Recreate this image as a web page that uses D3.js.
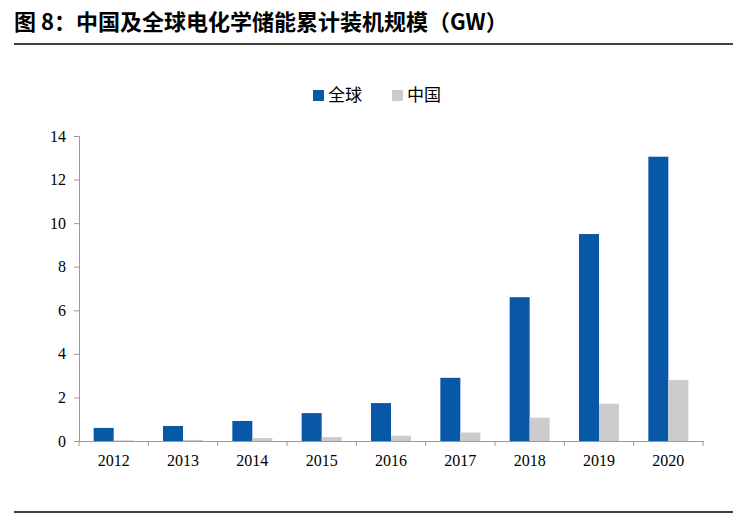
<!DOCTYPE html>
<html><head><meta charset="utf-8">
<script src="https://cdn.jsdelivr.net/npm/d3@7"></script>
<style>body{margin:0;background:#fff}</style>
</head><body>
<svg id="chart" width="747" height="521"></svg>
<script>
const years = ['2012','2013','2014','2015','2016','2017','2018','2019','2020']
const globalVals = [0.6, 0.69, 0.92, 1.28, 1.74, 2.9, 6.6, 9.5, 13.05]
const chinaVals = [0.03, 0.05, 0.14, 0.18, 0.24, 0.39, 1.07, 1.71, 2.8]
const seriesNames = ['全球', '中国']
const colors = ['#0958a8', '#cccccc']

const svg = d3.select('#chart')
const serif = '"Liberation Serif", "Times New Roman", serif'
const cjk = '"Noto Sans CJK SC", sans-serif'

// title + rules
svg.append('text').attr('x', 14).attr('y', 30)
  .style('font-family', cjk).style('font-size', '22px').style('font-weight', 'bold')
  .text('图  8：中国及全球电化学储能累计装机规模（GW）')
svg.append('line').attr('x1', 14).attr('x2', 733).attr('y1', 44).attr('y2', 44)
  .attr('stroke', '#000').attr('stroke-width', 1.5)
svg.append('line').attr('x1', 14).attr('x2', 733).attr('y1', 512).attr('y2', 512)
  .attr('stroke', '#000').attr('stroke-width', 1.5)

const plotL = 79, plotR = 703, plotT = 136, plotB = 441
const x = d3.scaleBand().domain(years).range([plotL, plotR]).paddingInner(0).paddingOuter(0)
const y = d3.scaleLinear().domain([0, 14]).range([plotB, plotT])

const yAxis = svg.append('g').attr('transform', `translate(${plotL},0)`)
  .call(d3.axisLeft(y).tickValues(d3.range(0, 15, 2)).tickSize(5).tickPadding(8))
yAxis.selectAll('text').style('font-family', serif).style('font-size', '16px').attr('fill', '#000')
yAxis.selectAll('line,path').attr('stroke', '#999')

const xAxis = svg.append('g').attr('transform', `translate(0,${plotB})`)
  .call(d3.axisBottom(x).tickSize(0).tickPadding(14))
xAxis.selectAll('text').style('font-family', serif).style('font-size', '16px').attr('fill', '#000')
xAxis.selectAll('path').attr('stroke', '#999')
xAxis.selectAll('.tick').append('line').attr('x1', -x.bandwidth()/2).attr('x2', -x.bandwidth()/2)
  .attr('y2', 5).attr('stroke', '#999')
xAxis.append('line').attr('x1', plotR).attr('x2', plotR).attr('y2', 5).attr('stroke', '#999')

const bw = 20
const sets = [globalVals, chinaVals]
sets.forEach((vals, s) => {
  svg.append('g').selectAll('rect').data(vals).enter().append('rect')
    .attr('x', (d, i) => x(years[i]) + x.bandwidth()/2 - bw + s * bw)
    .attr('width', bw)
    .attr('y', d => y(d))
    .attr('height', d => plotB - y(d))
    .attr('fill', colors[s])
})

// legend
const lg = svg.append('g').attr('transform', 'translate(313,90)')
seriesNames.forEach((n, i) => {
  const g = lg.append('g').attr('transform', `translate(${i * 79},0)`)
  g.append('rect').attr('width', 11).attr('height', 11).attr('fill', colors[i])
  g.append('text').attr('x', 15).attr('y', 11).style('font-family', cjk).style('font-size', '17px').text(n)
})
</script>
</body></html>
